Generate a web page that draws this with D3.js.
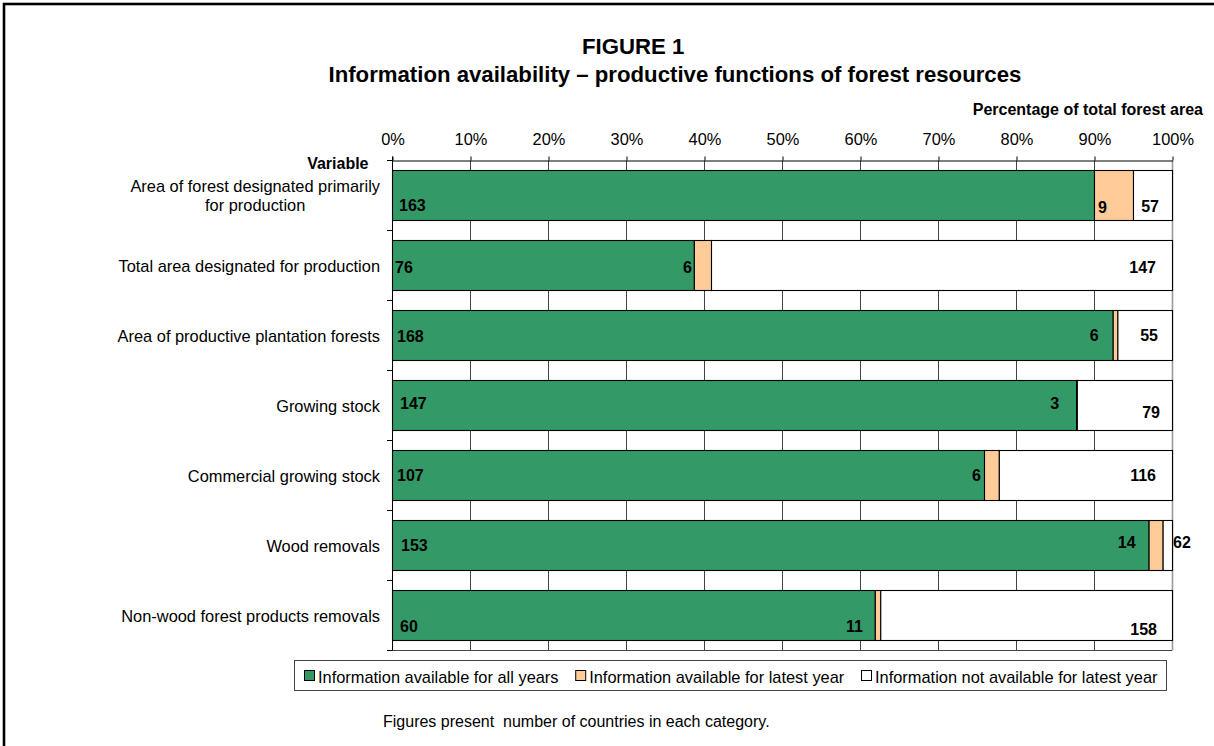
<!DOCTYPE html>
<html>
<head>
<meta charset="utf-8">
<script src="https://cdn.jsdelivr.net/npm/d3@7"></script>
<style>
  body { margin: 0; background: #fff; }
  svg text { font-family: "Liberation Sans", Arial, Helvetica, sans-serif; fill: #000; }
</style>
</head>
<body>
<svg id="chart" width="1214" height="746"></svg>
<script>
// ---------------- DATA ----------------
const titleLine1 = "FIGURE 1";
const titleLine2 = "Information availability \u2013 productive functions of forest resources";
const axisTitle = "Percentage of total forest area";
const yAxisTitle = "Variable";
const footnote = "Figures present  number of countries in each category.";

const categories = [
  "Area of forest designated primarily\nfor production",
  "Total area designated for production",
  "Area of productive plantation forests",
  "Growing stock",
  "Commercial growing stock",
  "Wood removals",
  "Non-wood forest products removals"
];
const seriesNames = [
  "Information available for all years",
  "Information available for latest year",
  "Information not available for latest year"
];
// share of total forest area (%)
const pctAllYears     = [90.0, 38.7, 92.4, 87.7, 75.9, 97.0, 61.9];
const pctLatestYear   = [5.0,  2.2,  0.6,  0.1,  1.9,  1.8,  0.7];
const pctNotAvailable = [5.0,  59.1, 7.0,  12.2, 22.2, 1.2,  37.4];
// number of countries (labels)
const countAllYears     = [163, 76, 168, 147, 107, 153, 60];
const countLatestYear   = [9,   6,  6,   3,   6,   14,  11];
const countNotAvailable = [57, 147, 55,  79,  116, 62,  158];
const tickValues = [0, 10, 20, 30, 40, 50, 60, 70, 80, 90, 100];

// ---------------- LAYOUT / STYLE ----------------
const colors = ["#339966", "#FFCC99", "#FFFFFF"];
const FONT = 16.4;
// manual label placement (as in the original figure)
const greenLabelDx  = [7, 3, 5, 8, 5, 9, 8];
const orangeLabelDx = [4, -2, -14, -17, -3, -13, -12];   // from end of green segment
const whiteLabelDx  = [-13, -16, -14, -12, -16, 1, -15];  // from 100% line
const labelDy = [[10, 12, 11], [2, 2, 2], [1, 0, 0], [-2, -2, 7], [0, 0, 0], [0, -3, -3], [11, 11, 14]];

const svg = d3.select("#chart");

// outer frame (only top/left visible)
svg.append("rect")
  .attr("x", 4).attr("y", 4).attr("width", 1250).attr("height", 800)
  .attr("fill", "none").attr("stroke", "#000").attr("stroke-width", 2.6);

const x = d3.scaleLinear().domain([0, 100]).range([392, 1172]);
const y = d3.scaleBand().domain(d3.range(categories.length))
  .range([160.5, 650.5]).paddingInner(2 / 7).paddingOuter(1 / 7);

const plotTop = y.range()[0], plotBottom = y.range()[1];

// titles
svg.append("text").attr("x", 582).attr("y", 54)
  .attr("font-size", 22.2).attr("font-weight", "bold").text(titleLine1);
svg.append("text").attr("x", 328.5).attr("y", 81.5)
  .attr("font-size", 22.2).attr("font-weight", "bold").text(titleLine2);
svg.append("text").attr("x", 1203).attr("y", 115).attr("text-anchor", "end")
  .attr("font-size", 16).attr("font-weight", "bold").text(axisTitle);
svg.append("text").attr("x", 368.5).attr("y", 169).attr("text-anchor", "end")
  .attr("font-size", 16).attr("font-weight", "bold").text(yAxisTitle);

// vertical gridlines
svg.append("g").selectAll("line").data(tickValues).join("line")
  .attr("x1", d => Math.round(x(d)) + 0.5).attr("x2", d => Math.round(x(d)) + 0.5)
  .attr("y1", plotTop).attr("y2", plotBottom)
  .attr("stroke", d => d === 100 ? "#9a9a9a" : "#444")
  .attr("stroke-width", d => d === 100 ? 1.6 : 1);

// bottom line
svg.append("line").attr("x1", x(0)).attr("x2", x(100)).attr("y1", plotBottom).attr("y2", plotBottom)
  .attr("stroke", "#444");

// top axis
const xAxis = d3.axisTop(x).tickValues(tickValues).tickFormat(d => d + "%")
  .tickSize(4).tickSizeOuter(0).tickPadding(12);
const gx = svg.append("g").attr("transform", `translate(0.5,${plotTop})`).call(xAxis);
gx.attr("font-family", null);
gx.selectAll("text").attr("font-size", FONT).attr("fill", "#000");
gx.selectAll("line").attr("stroke", "#000");
gx.select(".domain").attr("stroke", "#000");

// left axis line and boundary ticks
svg.append("line").attr("x1", x(0) + 0.5).attr("x2", x(0) + 0.5)
  .attr("y1", plotTop - 4).attr("y2", plotBottom).attr("stroke", "#000");
const boundaries = d3.range(categories.length + 1).map(i => plotTop + i * y.step());
svg.append("g").selectAll("line").data(boundaries).join("line")
  .attr("x1", x(0) - 5).attr("x2", x(0)).attr("y1", d => d).attr("y2", d => d)
  .attr("stroke", "#000");

// stacked bars
const rows = categories.map((c, i) => ({ i, a: pctAllYears[i], b: pctLatestYear[i], c: pctNotAvailable[i] }));
const stack = d3.stack().keys(["a", "b", "c"])(rows);

svg.append("g").selectAll("g").data(stack).join("g")
  .attr("fill", (d, k) => colors[k])
  .selectAll("rect").data(d => d).join("rect")
  .attr("x", d => x(d[0]) + 0.5)
  .attr("width", d => Math.max(0, x(d[1]) - x(d[0])))
  .attr("y", d => y(d.data.i))
  .attr("height", y.bandwidth())
  .attr("stroke", "#000").attr("stroke-width", 1.1);

// bar labels
const lab = svg.append("g").attr("font-size", 16).attr("font-weight", "bold");
rows.forEach((r, i) => {
  const cy = y(i) + y.bandwidth() / 2 + 5.8;
  lab.append("text").attr("x", x(0) + greenLabelDx[i]).attr("y", cy + labelDy[i][0])
    .text(countAllYears[i]);
  const gEnd = x(stack[0][i][1]);
  lab.append("text").attr("x", gEnd + orangeLabelDx[i]).attr("y", cy + labelDy[i][1])
    .attr("text-anchor", orangeLabelDx[i] > 0 ? "start" : "end").text(countLatestYear[i]);
  lab.append("text").attr("x", x(100) + whiteLabelDx[i]).attr("y", cy + labelDy[i][2])
    .attr("text-anchor", whiteLabelDx[i] > 0 ? "start" : "end").text(countNotAvailable[i]);
});

// category labels
const catG = svg.append("g").attr("font-size", FONT);
categories.forEach((c, i) => {
  const lines = c.split("\n");
  const cy = y(i) + y.bandwidth() / 2 + 6;
  const n = lines.length;
  const ts = lines.map((ln, k) => catG.append("text")
    .attr("y", cy + (k - (n - 1) / 2) * 19.3)
    .attr("text-anchor", "middle").text(ln));
  const maxW = d3.max(ts, t => t.node().getComputedTextLength());
  ts.forEach(t => t.attr("x", 380 - maxW / 2));
});

// legend
const lg = svg.append("g");
lg.append("rect").attr("x", 294.5).attr("y", 660.5).attr("width", 872).attr("height", 30)
  .attr("fill", "#fff").attr("stroke", "#444").attr("stroke-width", 1);
let lx = 304;
seriesNames.forEach((s, k) => {
  lg.append("rect").attr("x", lx + 0.5).attr("y", 670.5).attr("width", 10).attr("height", 10)
    .attr("fill", colors[k]).attr("stroke", "#000").attr("stroke-width", 1);
  const t = lg.append("text").attr("x", lx + 14).attr("y", 682.5).attr("font-size", FONT).text(s);
  lx += 14 + t.node().getComputedTextLength() + 16.7;
});

// footnote
svg.append("text").attr("x", 383).attr("y", 727).attr("font-size", 16)
  .style("white-space", "pre").text(footnote);
</script>
</body>
</html>
